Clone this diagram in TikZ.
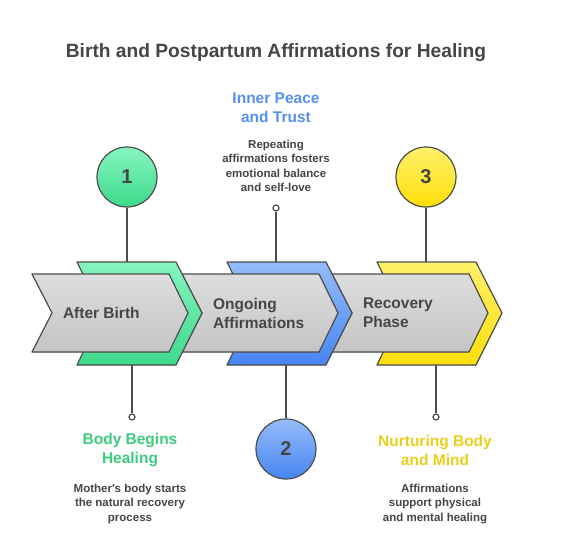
\documentclass[tikz,border=0pt]{standalone}
\usepackage{fontspec}
\setmainfont{Liberation Sans}
\usetikzlibrary{positioning}
\definecolor{txtgray}{HTML}{464646}
\definecolor{edgegray}{HTML}{4E4E4E}
\definecolor{chevtop}{HTML}{DEDEDE}
\definecolor{chevbot}{HTML}{C4C4C4}
\definecolor{greentop}{HTML}{86F5BE}
\definecolor{greenbot}{HTML}{3ED98C}
\definecolor{bluetop}{HTML}{95BCF9}
\definecolor{bluebot}{HTML}{4784F2}
\definecolor{yellowtop}{HTML}{FFF16A}
\definecolor{yellowbot}{HTML}{FFDF0A}
\definecolor{greentxt}{HTML}{3DCB7E}
\definecolor{bluetxt}{HTML}{5791EE}
\definecolor{yellowtxt}{HTML}{E9CF1C}

\begin{document}
\begin{tikzpicture}[x = 1pt, y = -1pt, line join = round,
    edge/.style = {draw = edgegray, line width = 1.2pt},
    greychev/.style = {edge, top color = chevtop, bottom color = chevbot},
    numdisc/.style = {circle, edge, minimum size = 60pt, inner sep = 0pt,
      font = \fontsize{20}{20}\selectfont\bfseries, text = txtgray},
    pin/.style = {circle, edge, fill = white, minimum size = 6pt, inner sep = 0pt},
    steptext/.style = {anchor = west, align = left, text = txtgray,
      font = \fontsize{15.5}{19}\selectfont\bfseries},
    headtext/.style = {align = center, font = \fontsize{15.5}{19}\selectfont\bfseries},
    desctext/.style = {align = center, text = txtgray,
      font = \fontsize{11.5}{14.5}\selectfont\bfseries}]

    \useasboundingbox[fill = white] (0,0) rectangle (566,538);

    \node[text = txtgray, font = \fontsize{19.2}{19.2}\selectfont\bfseries] (title) at (276,53)
      {Birth and Postpartum Affirmations for Healing};

    % third stage
    \begin{scope}[xshift = 332pt]
    \filldraw[edge, top color = yellowtop, bottom color = yellowbot]
      (45,262) -- (144,262) -- (170,313) -- (144,365) -- (45,365) -- (70,313) -- cycle;
    \filldraw[greychev] (0,274) -- (137,274) -- (156,313) -- (137,352) -- (0,352) -- (20,313) -- cycle;
    \coordinate (top3) at (94,262);
    \coordinate (bot3) at (104,365);
    \end{scope}

    % second stage
    \begin{scope}[xshift = 182pt]
    \filldraw[edge, top color = bluetop, bottom color = bluebot]
      (45,262) -- (144,262) -- (170,313) -- (144,365) -- (45,365) -- (70,313) -- cycle;
    \filldraw[greychev] (0,274) -- (137,274) -- (156,313) -- (137,352) -- (0,352) -- (20,313) -- cycle;
    \coordinate (top2) at (94,262);
    \coordinate (bot2) at (104,365);
    \end{scope}

    % first stage
    \begin{scope}[xshift = 32pt]
    \filldraw[edge, top color = greentop, bottom color = greenbot]
      (45,262) -- (144,262) -- (170,313) -- (144,365) -- (45,365) -- (70,313) -- cycle;
    \filldraw[greychev] (0,274) -- (137,274) -- (156,313) -- (137,352) -- (0,352) -- (20,313) -- cycle;
    \coordinate (top1) at (95,262);
    \coordinate (bot1) at (100,365);
    \end{scope}

    \node[steptext] (lab1) at (59.5,313) {After Birth};
    \node[steptext] (lab2) at (209.5,313) {Ongoing\\Affirmations};
    \node[steptext] (lab3) at (359.5,313) {Recovery\\Phase};

    % numbered discs
    \node[numdisc, top color = greentop, bottom color = greenbot] (disc1) at (127,177) {1};
    \node[numdisc, top color = bluetop, bottom color = bluebot] (disc2) at (286,449) {2};
    \node[numdisc, top color = yellowtop, bottom color = yellowbot] (disc3) at (426,177) {3};

    \draw[edge] (disc1) -- (top1);
    \draw[edge] (disc2) -- (bot2);
    \draw[edge] (disc3) -- (top3);

    % pins
    \node[pin] (pin2) at (276,208) {};
    \node[pin] (pin1) at (132,417) {};
    \node[pin] (pin3) at (436,417) {};

    \draw[edge] (pin2) -- (top2);
    \draw[edge] (bot1) -- (pin1);
    \draw[edge] (bot3) -- (pin3);

    % texts
    \node[headtext, text = bluetxt] (head2) at (276,107.5) {Inner Peace\\and Trust};
    \node[desctext] (desc2) at (276,166) {Repeating\\affirmations fosters\\emotional balance\\and self-love};

    \node[headtext, text = greentxt] (head1) at (130,450.5) {Body Begins\\Healing};
    \node[desctext] (desc1) at (130,504) {Mother\textquotesingle s body starts\\the natural recovery\\process};

    \node[headtext, text = yellowtxt] (head3) at (435,450.5) {Nurturing Body\\and Mind};
    \node[desctext] (desc3) at (435,504) {Affirmations\\support physical\\and mental healing};
\end{tikzpicture}
\end{document}
